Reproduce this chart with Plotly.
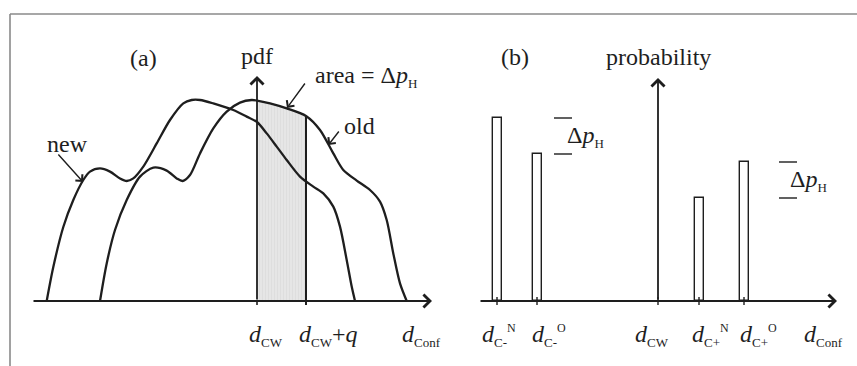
import plotly.graph_objects as go

# ---------------- data (panel a: pdf curves) ----------------
q = 4.9  # d_CW + q offset (d_CW = 0)

new_x = [-21.03, -20.37, -19.37, -18.37, -17.37, -16.7, -15.7, -14.7, -13.7, -13.03, -12.37,
         -11.37, -10.03, -8.7, -7.37, -6.53, -5.7, -4.37, -2.37, -1.03, 0.0, 0.97, 1.97, 2.97,
         4.3, 5.63, 6.63, 7.63, 8.3, 8.97, 9.47, 9.8]
new_y = [0.0, 0.17, 0.37, 0.505, 0.605, 0.647, 0.663, 0.647, 0.613, 0.6, 0.613,
         0.672, 0.788, 0.905, 0.988, 1.005, 1.005, 0.988, 0.955, 0.922, 0.895, 0.838, 0.772, 0.705,
         0.622, 0.572, 0.538, 0.472, 0.372, 0.205, 0.072, 0.0]

old_x = [-15.7, -15.03, -14.2, -13.03, -11.7, -10.37, -9.03, -8.03, -7.43, -6.7, -5.7, -4.37,
         -3.03, -1.7, -0.53, 0.0, 1.3, 2.97, 4.9, 6.3, 7.63, 8.63, 9.97, 11.3, 12.3, 12.97,
         13.63, 14.3, 14.97]
old_y = [0.0, 0.188, 0.355, 0.505, 0.622, 0.667, 0.652, 0.613, 0.6, 0.63, 0.738, 0.863,
         0.947, 0.992, 1.005, 1.002, 0.988, 0.963, 0.925, 0.855, 0.738, 0.655, 0.602, 0.555,
         0.497, 0.405, 0.238, 0.088, 0.0]

# ---------------- data (panel b: discrete probabilities) ----------------
bar_x = [-16.05, -12.1, 4.1, 8.65]
bar_p = [0.915, 0.735, 0.515, 0.695]
tick_b = [-16.1, -12.1, 0.0, 4.1, 8.6]


def sub(s):
    return '<sub><span style="font-size:13px">' + s + '</span></sub>'


def sup(s):
    return '<sup><span style="font-size:12px">' + s + '</span></sup>'


labels_a = ['<i>d</i>' + sub('CW'), '<i>d</i>' + sub('CW') + '+<i>q</i>', '<i>d</i>' + sub('Conf')]
labels_a_x = [-1.0, 4.0, 14.3]
labels_b = ['<i>d</i>' + sub('C-') + sup('N'), '<i>d</i>' + sub('C-') + sup('O'),
            '<i>d</i>' + sub('CW'), '<i>d</i>' + sub('C+') + sup('N'),
            '<i>d</i>' + sub('C+') + sup('O'), '<i>d</i>' + sub('Conf')]
labels_b_x = [-17.8, -12.8, -2.5, 3.2, 8.0, 14.4]
DPH = 'Δ<i>p</i>' + sub('H')

# ---------------- styling ----------------
INK = '#1e1e1e'
FONT = 'Liberation Serif, Times New Roman, serif'
FS = 24

fig = go.Figure()

# shaded area under old curve between d_CW and d_CW+q
sx = [x for x in old_x if 0.0 <= x <= q]
sy = [y for x, y in zip(old_x, old_y) if 0.0 <= x <= q]
fig.add_trace(go.Scatter(
    x=[0.0] + sx + [q, 0.0], y=[0.0] + sy + [0.0, 0.0],
    mode='lines', fill='toself', line=dict(width=0),
    fillcolor='#e3e3e3',
    fillpattern=dict(shape='|', fgcolor='#d2d2d2', bgcolor='#e6e6e6', size=3, solidity=0.25),
    hoverinfo='skip', showlegend=False, xaxis='x', yaxis='y'))

for xs, ys in [(new_x, new_y), (old_x, old_y)]:
    fig.add_trace(go.Scatter(x=xs, y=ys, mode='lines',
                             line=dict(color=INK, width=2.3, shape='spline', smoothing=0.8),
                             hoverinfo='skip', showlegend=False, xaxis='x', yaxis='y'))

# vertical line at d_CW + q up to old curve
q_top = sy[-1]
fig.add_trace(go.Scatter(x=[q, q], y=[-0.02, q_top], mode='lines',
                         line=dict(color=INK, width=2.0),
                         hoverinfo='skip', showlegend=False, xaxis='x', yaxis='y'))
# tick at d_CW
fig.add_trace(go.Scatter(x=[0.0, 0.0], y=[-0.02, 0.0], mode='lines',
                         line=dict(color=INK, width=1.6),
                         hoverinfo='skip', showlegend=False, xaxis='x', yaxis='y'))

# panel b bars
fig.add_trace(go.Bar(x=bar_x, y=bar_p, width=0.9,
                     marker=dict(color='white', line=dict(color=INK, width=1.4)),
                     hoverinfo='skip', showlegend=False, xaxis='x2', yaxis='y2'))
for tx in tick_b:
    fig.add_trace(go.Scatter(x=[tx, tx], y=[-0.02, 0.02], mode='lines',
                             line=dict(color=INK, width=1.4),
                             hoverinfo='skip', showlegend=False, xaxis='x2', yaxis='y2'))

ann = []


def arrow(x0, y0, x1, y1, xr, yr, width=1.6, size=1.4):
    ann.append(dict(x=x1, y=y1, ax=x0, ay=y0, xref=xr, yref=yr, axref=xr, ayref=yr,
                    showarrow=True, arrowhead=4, arrowsize=size, arrowwidth=width,
                    arrowcolor=INK, standoff=0, text=''))


def text(x, y, s, xr, yr, anchor='center', size=FS):
    ann.append(dict(x=x, y=y, xref=xr, yref=yr, text=s, showarrow=False,
                    xanchor=anchor, yanchor='middle',
                    font=dict(family=FONT, size=size, color=INK)))


# panel a axes
arrow(-22.5, 0.0, 17.5, 0.0, 'x', 'y', width=1.8)
arrow(0.0, 0.0, 0.0, 1.125, 'x', 'y', width=1.8)
# pointer arrows
arrow(4.9, 1.095, 3.0, 0.965, 'x', 'y', width=1.4, size=1.3)
arrow(8.3, 0.855, 7.13, 0.78, 'x', 'y', width=1.4, size=1.3)
arrow(-20.0, 0.74, -17.4, 0.595, 'x', 'y', width=1.4, size=1.3)

text(-11.4, 1.215, '(a)', 'x', 'y')
text(0.0, 1.225, 'pdf', 'x', 'y')
text(5.6, 1.125, 'area = ' + DPH, 'x', 'y', anchor='left')
text(8.5, 0.875, 'old', 'x', 'y', anchor='left')
text(-18.95, 0.785, 'new', 'x', 'y')
for s, lx in zip(labels_a, labels_a_x):
    text(lx, -0.17, s, 'x', 'y', anchor='left')

# panel b axes
arrow(-17.9, 0.0, 17.9, 0.0, 'x2', 'y2', width=1.8)
arrow(0.0, 0.0, 0.0, 1.115, 'x2', 'y2', width=1.8)
text(-14.3, 1.22, '(b)', 'x2', 'y2')
text(0.0, 1.22, 'probability', 'x2', 'y2')

# delta p_H markers (at bar heights)
for xa, xb, ya, yb, tx in [(-10.4, -8.6, bar_p[0], bar_p[1], -9.3),
                           (12.1, 13.9, bar_p[3], bar_p[2], 13.0)]:
    for yy in (ya, yb):
        fig.add_trace(go.Scatter(x=[xa, xb], y=[yy, yy], mode='lines',
                                 line=dict(color=INK, width=1.4),
                                 hoverinfo='skip', showlegend=False, xaxis='x2', yaxis='y2'))
    text(tx, (ya + yb) / 2, DPH, 'x2', 'y2', anchor='left')

for s, lx in zip(labels_b, labels_b_x):
    text(lx, -0.17, s, 'x2', 'y2', anchor='left')

W, H = 857, 366
ax_common = dict(visible=False, showgrid=False, zeroline=False, fixedrange=True)
fig.update_layout(
    width=W, height=H, margin=dict(l=0, r=0, t=0, b=0),
    paper_bgcolor='white', plot_bgcolor='rgba(0,0,0,0)',
    xaxis=dict(domain=[0, 440 / W], range=[-25.7, (440 - 257) / 10], **ax_common),
    yaxis=dict(domain=[0, 1], range=[-0.325, 1.505], **ax_common),
    xaxis2=dict(domain=[440 / W, 1], range=[(440 - 658) / 10, (857 - 658) / 10], **ax_common),
    yaxis2=dict(domain=[0, 1], range=[-0.325, 1.505], anchor='x2', **ax_common),
    annotations=ann,
    bargap=0,
    shapes=[
        dict(type='line', xref='paper', yref='paper', x0=10 / W, x1=1, y0=1 - 14 / H, y1=1 - 14 / H,
             line=dict(color='#8a8a8a', width=1.6)),
        dict(type='line', xref='paper', yref='paper', x0=10 / W, x1=10 / W, y0=0, y1=1 - 14 / H,
             line=dict(color='#8a8a8a', width=1.6)),
    ],
)

fig.write_html('out.html', config={'displayModeBar': False},
               post_script="document.body.style.margin='0';document.body.style.overflow='hidden';")
